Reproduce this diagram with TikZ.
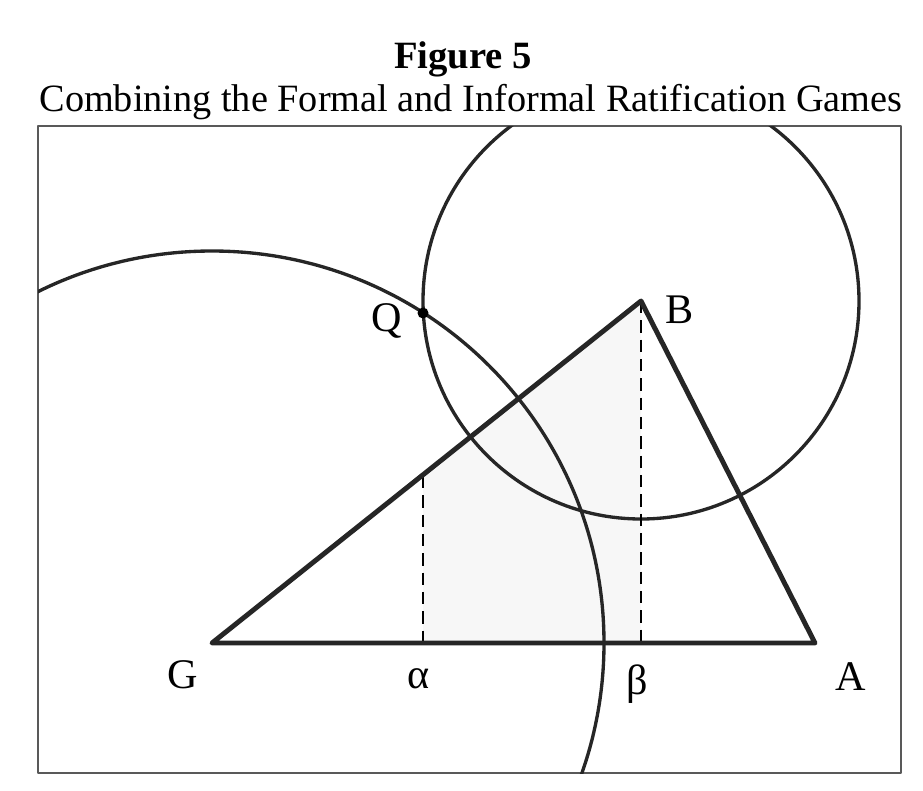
\documentclass[tikz,border=0pt]{standalone}
\usepackage{fontspec}
\setmainfont{Liberation Serif}
\tikzset{
  lbl/.style={font=\fontsize{24}{28}\selectfont, inner sep=0pt},
  dashline/.style={line width=1.1pt, dash pattern=on 7pt off 4pt},
}
\begin{document}
\begin{tikzpicture}[x=0.02cm, y=-0.02cm, line join=round]
  \useasboundingbox (0,0) rectangle (923,791);

  % Titles
  \node[font=\fontsize{22}{26}\selectfont\bfseries, anchor=base] (title) at (463,68) {Figure 5};
  \node[font=\fontsize{22}{26}\selectfont, anchor=base, xscale=0.99] (subtitle) at (471,111) {Combining the Formal and Informal Ratification Games};

  % Frame
  \draw[line width=1.4pt, black!65] (38,126) rectangle (901,773);

  % Points
  \coordinate (G) at (212,643);
  \coordinate (A) at (815,643);
  \coordinate (B) at (641,301);
  \coordinate (Q) at (423,313);
  \coordinate (alpha) at (423,643);
  \coordinate (alphatop) at (423,476);
  \coordinate (beta) at (641,643);

  % Shaded region
  \fill[gray!6] (alpha) -- (alphatop) -- (B) -- (beta) -- cycle;

  % Circles about G and B
  \begin{scope}
    \clip (38,126) rectangle (901,773);
    \draw[line width=1.9pt, black!85] (G) circle (392);
    \draw[line width=1.9pt, black!85] (B) circle (218);
  \end{scope}

  % Dashed lines
  \draw[dashline] (alphatop) -- (alpha);
  \draw[dashline] (B) -- (beta);

  % Triangle
  \draw[line width=2.8pt, black!85] (G) -- (A) -- (B) -- cycle;
  \fill (Q) circle (5.5);

  % Labels
  \node[lbl] (lG) at (183,675) {G};
  \node[lbl] (lA) at (851,677) {A};
  \node[lbl] (lB) at (680,310) {B};
  \node[lbl] (lQ) at (387,321) {Q};
  \node[lbl] (lalpha) at (419,679) {α};
  \node[lbl] (lbeta) at (637,684) {β};
\end{tikzpicture}
\end{document}
